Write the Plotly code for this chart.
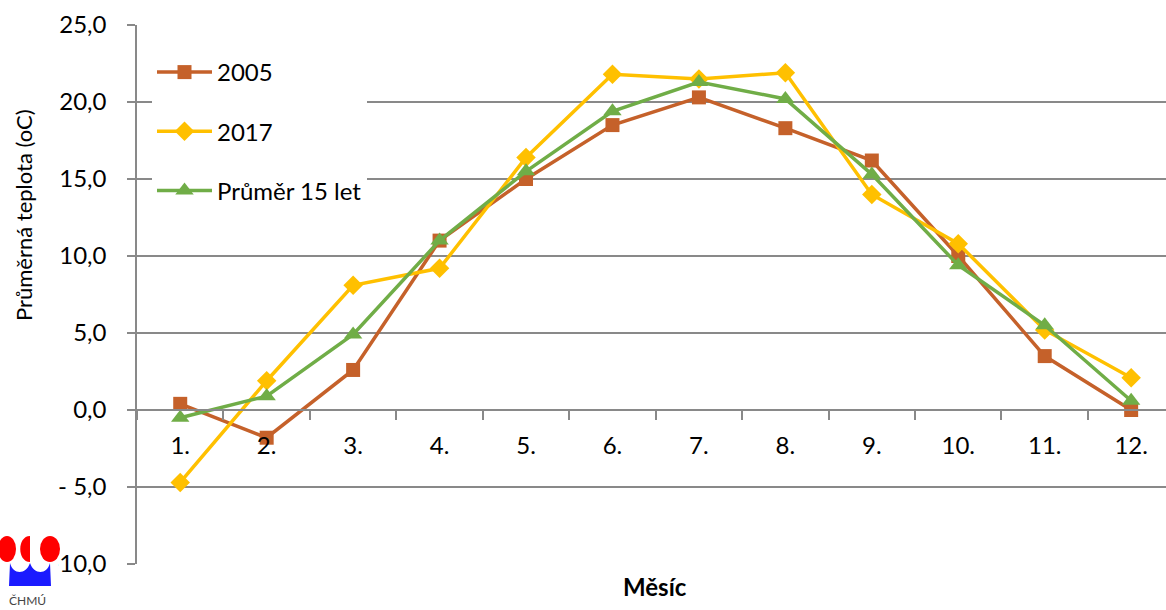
import plotly.graph_objects as go

months = ["1.", "2.", "3.", "4.", "5.", "6.", "7.", "8.", "9.", "10.", "11.", "12."]
t2005 = [0.4, -1.8, 2.6, 11.0, 15.0, 18.5, 20.3, 18.3, 16.2, 10.0, 3.5, 0.0]
t2017 = [-4.7, 1.9, 8.1, 9.2, 16.4, 21.8, 21.5, 21.9, 14.0, 10.8, 5.2, 2.1]
t_avg15 = [-0.5, 0.9, 4.9, 11.0, 15.5, 19.4, 21.3, 20.2, 15.3, 9.4, 5.5, 0.6]

y_tickvals = [25, 20, 15, 10, 5, 0, -5, -10]
y_ticktext = ["25,0", "20,0", "15,0", "10,0", "5,0", "0,0", "- 5,0", "-10,0"]

FONT = "Lato"
GRID = "#898989"
W, H = 1166, 610
L, R, T, B = 137, 0, 25, 46
PW = W - L - R
PH = H - T - B


def px(x):
    return (x - L) / PW


def py(y):
    return (H - B - y) / PH


fig = go.Figure()
fig.add_trace(go.Scatter(
    x=months, y=t2005, name="2005", mode="lines+markers", legendgroup="a",
    line=dict(color="#C5612A", width=3.5),
    marker=dict(symbol="square", size=14, color="#C5612A")))
fig.add_trace(go.Scatter(
    x=months, y=t2017, name="2017", mode="lines+markers", legendgroup="b",
    line=dict(color="#FFC000", width=3.5),
    marker=dict(symbol="diamond", size=15, color="#FFC000")))
fig.add_trace(go.Scatter(
    x=months, y=t_avg15, name="Průměr 15 let", mode="lines+markers", legendgroup="c",
    line=dict(color="#70AD47", width=3.5),
    marker=dict(symbol="triangle-up", size=16, color="#70AD47")))

shapes = []
# CHMU logo (approximate)
shapes.append(dict(type="rect", xref="paper", yref="paper", layer="above",
                   x0=px(0), x1=px(58), y0=py(530), y1=py(610),
                   fillcolor="white", line=dict(width=0)))
shapes.append(dict(type="circle", xref="paper", yref="paper", layer="above",
                   x0=px(-2), x1=px(16), y0=py(536), y1=py(562),
                   fillcolor="#FF0000", line=dict(width=0)))
shapes.append(dict(type="path", xref="paper", yref="paper", layer="above",
                   path=f"M {px(30)},{py(536)} C {px(17)},{py(536)} {px(17)},{py(562)} {px(30)},{py(562)} Z",
                   fillcolor="#FF0000", line=dict(width=0)))
shapes.append(dict(type="circle", xref="paper", yref="paper", layer="above",
                   x0=px(40), x1=px(60), y0=py(536), y1=py(562),
                   fillcolor="#FF0000", line=dict(width=0)))
shapes.append(dict(type="path", xref="paper", yref="paper", layer="above",
                   path=(f"M {px(9)},{py(586)} L {px(10)},{py(563)} "
                         f"C {px(13)},{py(575)} {px(26)},{py(575)} {px(30)},{py(563)} "
                         f"C {px(34)},{py(575)} {px(47)},{py(575)} {px(50)},{py(563)} "
                         f"L {px(51)},{py(586)} Z"),
                   fillcolor="#1A1AFF", line=dict(width=0)))

annotations = [
    dict(text="ČHMÚ", xref="paper", yref="paper", x=px(27), y=py(600),
         xanchor="center", yanchor="middle",
         showarrow=False, font=dict(family=FONT, size=12, color="#444444")),
    dict(text="<b>Měsíc</b>", xref="paper", yref="paper", x=px(655), y=py(586),
         xanchor="center", yanchor="middle",
         showarrow=False, font=dict(family=FONT, size=24, color="black")),
    dict(text="Průměrná teplota (oC)", xref="paper", yref="paper", x=px(23), y=py(215),
         xanchor="center", yanchor="middle",
         textangle=-90, showarrow=False, font=dict(family=FONT, size=22, color="black")),
]

fig.update_layout(
    width=W, height=H,
    margin=dict(l=L, r=R, t=T, b=B),
    paper_bgcolor="white", plot_bgcolor="white",
    font=dict(family=FONT, size=24, color="black"),
    showlegend=True,
    legend=dict(x=px(152), y=py(50), xanchor="left", yanchor="top",
                bgcolor="white", borderwidth=0, tracegroupgap=25,
                itemwidth=55, font=dict(family=FONT, size=24, color="black")),
    shapes=shapes,
    annotations=annotations,
)

fig.update_xaxes(
    type="category", range=[-0.5, 11.403], anchor="free", position=10 / 35,
    showline=True, linecolor=GRID, linewidth=1.5,
    showgrid=False, zeroline=False,
    ticks="outside", ticklen=9, tickwidth=1.5, tickcolor=GRID,
    tickson="boundaries", ticklabelstandoff=14,
    tickfont=dict(family=FONT, size=24, color="black"),
)
fig.update_yaxes(
    range=[-10, 25], tickvals=y_tickvals, ticktext=y_ticktext,
    showline=True, linecolor=GRID, linewidth=1.5,
    showgrid=True, gridcolor=GRID, gridwidth=1.5, zeroline=False,
    ticks="outside", ticklen=8, tickwidth=1.5, tickcolor=GRID,
    ticklabelstandoff=16,
    tickfont=dict(family=FONT, size=24, color="black"),
)

fig.write_html("out.html")
